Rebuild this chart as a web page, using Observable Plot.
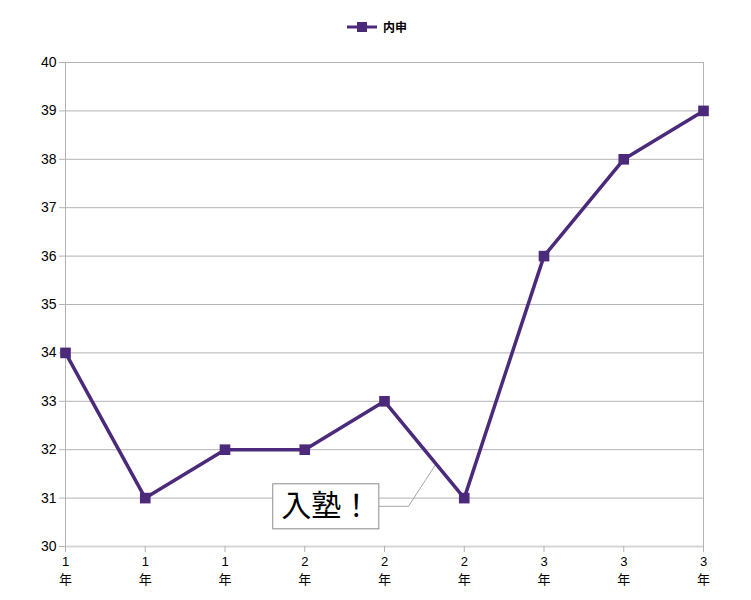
<!DOCTYPE html>
<html><head><meta charset="utf-8">
<script src="https://cdn.jsdelivr.net/npm/d3@7"></script>
<script src="https://cdn.jsdelivr.net/npm/@observablehq/plot@0.6"></script>
<style>
body{margin:0;background:#fff;font-family:"Liberation Sans","Noto Sans CJK JP",sans-serif;}
#legend{height:45px;display:flex;justify-content:center;align-items:flex-start;}
</style></head><body>
<div id="legend"></div>
<div id="chart"></div>
<script>
const gradeNumbers = ["1","1","1","2","2","2","3","3","3"];
const gradeSuffix = ["年","年","年","年","年","年","年","年","年"];
const naishin = [34, 31, 32, 32, 33, 31, 36, 38, 39];
const yTicks = [30,31,32,33,34,35,36,37,38,39,40];
const seriesName = "内申";
const color = "#4b2a7b";
// annotation callout (data coordinates: x = category index, y = value)
const noteLabel = "入塾！";
const noteCenter = [3.27, 30.82];
const noteBox = [2.605, 3.935, 30.355, 31.285];
const noteLeader = [[3.935, 30.83], [4.30, 30.83], [4.64, 31.69]];

const data = naishin.map((v, i) => ({i, v}));
const idx = gradeNumbers.map((_, i) => i);

// legend
document.getElementById("legend").innerHTML =
  `<svg width="120" height="45" style="overflow:visible;margin-left:62px">
    <line x1="0" x2="30" y1="27" y2="27" stroke="${color}" stroke-width="3"/>
    <rect x="10" y="22" width="10" height="10" fill="${color}"/>
    <text x="36" y="31.5" font-size="12" font-weight="bold" font-family="Noto Sans CJK JP, sans-serif" fill="#000">${seriesName}</text>
  </svg>`;

const chart = Plot.plot({
  width: 751,
  height: 555,
  marginTop: 17,
  marginBottom: 54,
  marginLeft: 65,
  marginRight: 48,
  style: {fontFamily: "Liberation Sans, Noto Sans CJK JP, sans-serif", fontSize: "14px", color: "#000"},
  x: {type: "linear", domain: [0, 8]},
  y: {domain: [30, 40]},
  marks: [
    Plot.ruleY(yTicks.slice(1), {stroke: "#b3b3b3", strokeWidth: 1, strokeOpacity: 1}),
    Plot.ruleY([30], {stroke: "#d6d6d6", strokeWidth: 2}),
    Plot.ruleX([0, 8], {stroke: "#b3b3b3", strokeWidth: 1}),
    Plot.axisY({ticks: yTicks, tickSize: 6, tickPadding: 3, stroke: "#b3b3b3", label: null, fontSize: 14}),
    Plot.axisX({ticks: idx, tickFormat: () => "", tickSize: 6, stroke: "#b3b3b3", label: null}),
    Plot.text(idx, {x: d => d, text: d => gradeNumbers[d], frameAnchor: "bottom", lineAnchor: "top", dy: 10, fontSize: 13, fill: "#000"}),
    Plot.text(idx, {x: d => d, text: d => gradeSuffix[d], frameAnchor: "bottom", lineAnchor: "top", dy: 28, fontSize: 13, fill: "#000", fontFamily: "Noto Sans CJK JP, sans-serif"}),
    Plot.line([noteLeader[0], noteLeader[1], noteLeader[2]], {x: d => d[0], y: d => d[1], stroke: "#a6a6a6", strokeWidth: 1}),
    Plot.rect([noteBox], {x1: d => d[0], x2: d => d[1], y1: d => d[2], y2: d => d[3], fill: "#fff", stroke: "#8c8c8c", strokeWidth: 1}),
    Plot.text([noteCenter], {x: d => d[0], y: d => d[1], text: () => noteLabel, fontSize: 30, fill: "#000", fontFamily: "Noto Sans CJK JP, serif"}),
    Plot.line(data, {x: "i", y: "v", stroke: color, strokeWidth: 3.5}),
    Plot.dot(data, {x: "i", y: "v", symbol: "square", r: 6, fill: color, stroke: "none"})
  ]
});
document.getElementById("chart").appendChild(chart);
</script>
</body></html>
